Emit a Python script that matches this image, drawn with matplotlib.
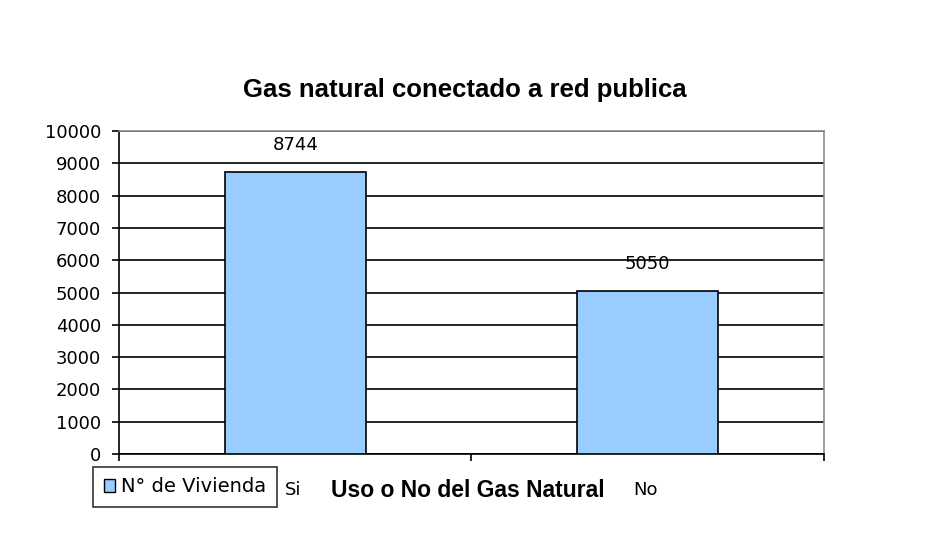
import matplotlib
matplotlib.use("Agg")
import matplotlib.pyplot as plt
from matplotlib.patches import Patch
import matplotlib.transforms as mtransforms

categories = ["Si", "No"]
values = [8744, 5050]
series_name = "N° de Vivienda"
title = "Gas natural conectado a red publica"
xlabel = "Uso o No del Gas Natural"
yticks = list(range(0, 10001, 1000))

plt.rcParams['font.family'] = ['DejaVu Sans']
W, H = 953, 540

fig = plt.figure(figsize=(W / 100, H / 100), dpi=100)
fig.patch.set_facecolor('white')
ax = fig.add_axes([119 / W, 1 - 454 / H, (824 - 119) / W, (454 - 131) / H])

x = list(range(len(categories)))
ax.bar(x, values, width=0.4, color='#99CCFF', edgecolor='black', linewidth=1.2, zorder=3)
for xi, v in zip(x, values):
    ax.annotate(str(v), (xi, v), xytext=(0, 15.5), textcoords='offset points',
                ha='center', va='baseline', fontsize=13)

ax.set_xlim(-0.5, len(categories) - 0.5)
ax.set_ylim(0, 10000)
ax.set_yticks(yticks)
ax.set_yticklabels([str(t) for t in yticks], fontsize=13)
ax.yaxis.grid(True, color='black', linewidth=1.2, zorder=0)
ax.set_axisbelow(True)

ax.set_xticks([-0.5, 0.5, 1.5])
ax.set_xticklabels([])
ax.tick_params(axis='x', length=5, width=1.2, direction='out')
ax.tick_params(axis='y', length=5, width=1.2, direction='out', pad=8)

# category labels below the axis
trans = mtransforms.blended_transform_factory(ax.transData, fig.transFigure)
for xi, c in zip(x, categories):
    ax.text(xi - 0.005, 1 - 495 / H, c, transform=trans, ha='center', va='baseline', fontsize=13)

ax.spines['top'].set_color('#8c8c8c')
ax.spines['right'].set_color('#8c8c8c')
ax.spines['left'].set_color('black')
ax.spines['bottom'].set_color('black')
for s in ax.spines.values():
    s.set_linewidth(1.2)

fig.text(468 / W, 1 - 497 / H, xlabel, ha='center', va='baseline', fontsize=16.5,
         fontweight='bold', family=['Liberation Sans', 'DejaVu Sans'])
fig.text(465 / W, 1 - 97 / H, title, ha='center', va='baseline', fontsize=18.5,
         fontweight='bold', family=['Liberation Sans', 'DejaVu Sans'])

leg = fig.legend(handles=[Patch(facecolor='#99CCFF', edgecolor='black', label=series_name)],
                 loc='lower left', bbox_to_anchor=(93 / W, 1 - 507 / H), fontsize=14,
                 frameon=True, fancybox=False, edgecolor='black', handlelength=0.6,
                 handleheight=0.6, handletextpad=0.3, borderpad=0.55, borderaxespad=0)
leg.get_frame().set_linewidth(1.2)

fig.savefig("out.png", dpi=100, facecolor='white')
